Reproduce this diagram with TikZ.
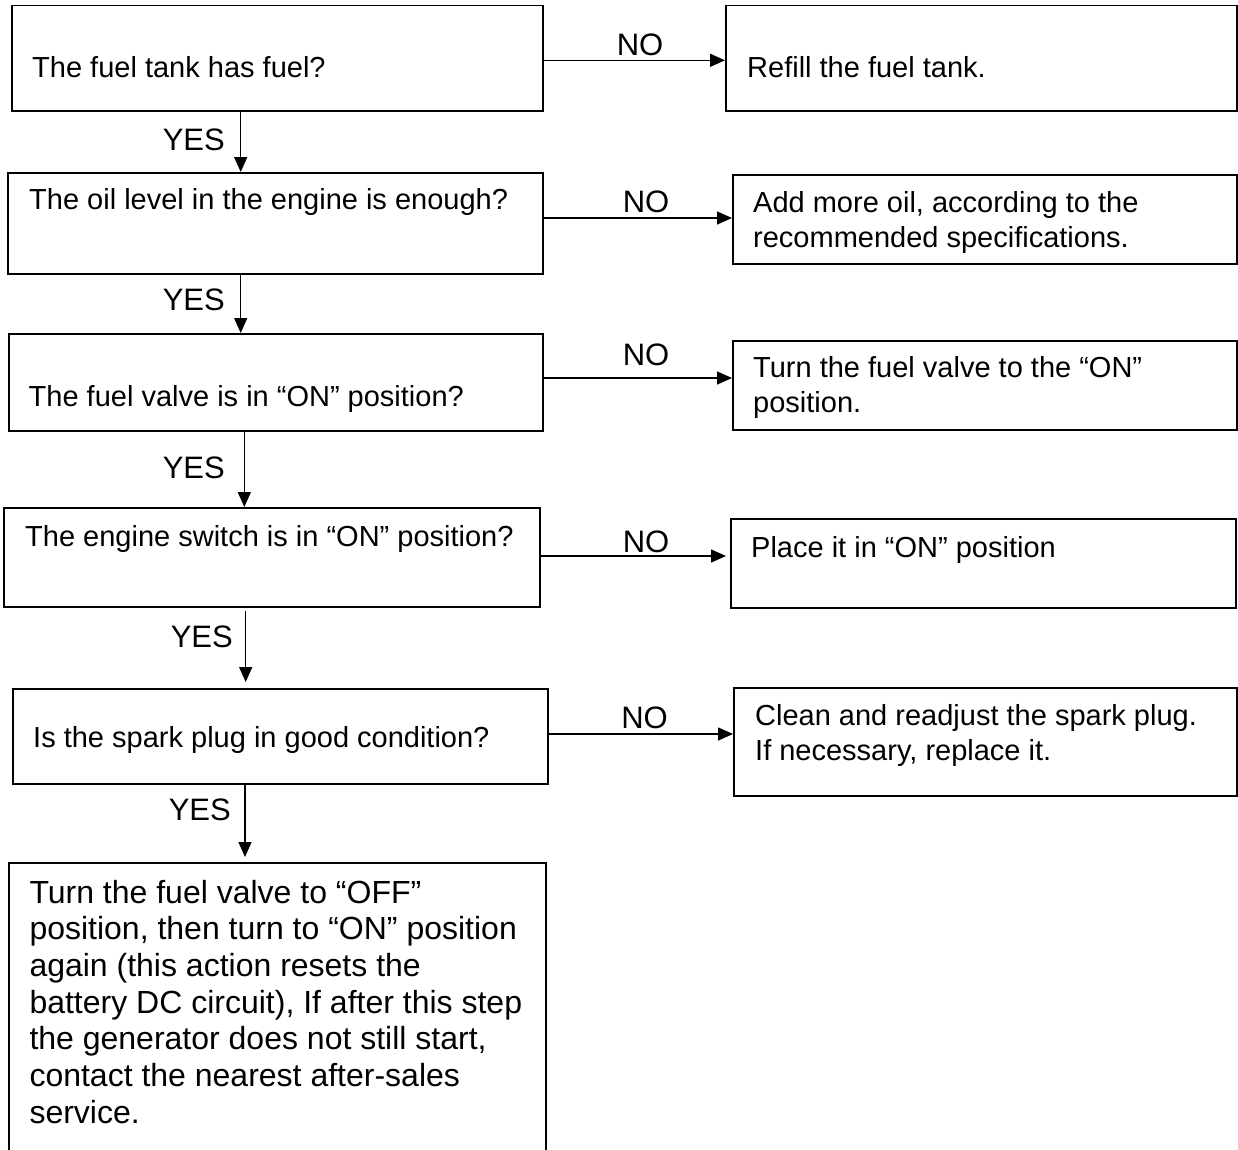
\documentclass[tikz,border=0pt]{standalone}
\usepackage{fontspec}
\setmainfont{Liberation Sans}
\usetikzlibrary{arrows.meta}
\newcommand{\mylines}[1]{\begin{tabular}[t]{@{}l@{}}#1\end{tabular}}
\begin{document}
\begin{tikzpicture}[x=1pt,y=-1pt,
  box/.style={draw=black,line width=1.5pt,anchor=north west,inner sep=0pt,fill=none},
  txt/.style={anchor=base west,inner sep=0pt,font=\fontsize{29}{35}\selectfont},
  bigtxt/.style={anchor=base west,inner sep=0pt,font=\fontsize{32}{36.7}\selectfont},
  lbl/.style={inner sep=0pt,font=\fontsize{31}{36}\selectfont},
  arr/.style={line width=1.5pt,-{Triangle[length=15pt,width=13pt]}}]
\useasboundingbox (0,0) rectangle (1238,1149);
\clip (0,0) rectangle (1238,1149);
\fill[white] (0,0) rectangle (1238,1149);
% boxes
\node[box,minimum width=531pt,minimum height=105.3pt] (q1) at (11,4.7) {};
\node[box,minimum width=511pt,minimum height=105.3pt] (a1) at (725,4.7) {};
\node[box,minimum width=534.7pt,minimum height=101pt] (q2) at (7.3,172) {};
\node[box,minimum width=504pt,minimum height=89pt] (a2) at (732,174) {};
\node[box,minimum width=534pt,minimum height=97pt] (q3) at (8,333) {};
\node[box,minimum width=504pt,minimum height=89pt] (a3) at (732,340) {};
\node[box,minimum width=536pt,minimum height=99pt] (q4) at (3,507) {};
\node[box,minimum width=505pt,minimum height=89pt] (a4) at (730,518) {};
\node[box,minimum width=535pt,minimum height=95pt] (q5) at (12,688) {};
\node[box,minimum width=503pt,minimum height=108pt] (a5) at (733,687) {};
\node[box,minimum width=537pt,minimum height=320pt] (q6) at (8,862) {};
% texts
\node[txt] (t1) at (32,77) {The fuel tank has fuel?};
\node[txt] (u1) at (747,77) {Refill the fuel tank.};
\node[txt] (t2) at (29,209) {The oil level in the engine is enough?};
\node[txt] (u2) at (753,212) {\mylines{Add more oil, according to the\\recommended specifications.}};
\node[txt] (t3) at (28.5,406) {The fuel valve is in “ON” position?};
\node[txt] (u3) at (753,377) {\mylines{Turn the fuel valve to the “ON”\\position.}};
\node[txt] (t4) at (25,546) {The engine switch is in “ON” position?};
\node[txt] (u4) at (751,557) {Place it in “ON” position};
\node[txt] (t5) at (33,747) {Is the spark plug in good condition?};
\node[txt] (u5) at (755,725) {\mylines{Clean and readjust the spark plug.\\If necessary, replace it.}};
\node[bigtxt] (t6) at (29.3,903) {\mylines{Turn the fuel valve to “OFF”\\position, then turn to “ON” position\\again (this action resets the\\battery DC circuit), If after this step\\the generator does not still start,\\contact the nearest after-sales\\service.}};
% helper coordinates
\coordinate (n1) at (0,60.3);
\coordinate (n2) at (0,218);
\coordinate (n3) at (0,378);
\coordinate (n4) at (0,556);
\coordinate (n5) at (0,734);
\coordinate (y1) at (240.7,0);
\coordinate (y2) at (240.7,0);
\coordinate (y3) at (244.3,0);
\coordinate (y4) at (245.7,0);
\coordinate (y5) at (245,0);
% NO connectors
\draw[arr] (q1.east |- n1) -- (a1.west |- n1);
\draw[arr] (q2.east |- n2) -- (a2.west |- n2);
\draw[arr] (q3.east |- n3) -- (a3.west |- n3);
\draw[arr,shorten >=4pt] (q4.east |- n4) -- (a4.west |- n4);
\draw[arr] (q5.east |- n5) -- (a5.west |- n5);
% YES connectors
\draw[arr] (q1.south -| y1) -- (q2.north -| y1);
\draw[arr] (q2.south -| y2) -- (q3.north -| y2);
\draw[arr] (q3.south -| y3) -- (q4.north -| y3);
\draw[arr,shorten <=3pt,shorten >=6pt] (q4.south -| y4) -- (q5.north -| y4);
\draw[arr,shorten >=5pt] (q5.south -| y5) -- (q6.north -| y5);
% labels
\node[lbl,anchor=base] (no1) at (640,55) {NO};
\node[lbl,anchor=base] (no2) at (646,212) {NO};
\node[lbl,anchor=base] (no3) at (646,365) {NO};
\node[lbl,anchor=base] (no4) at (646,552) {NO};
\node[lbl,anchor=base] (no5) at (644.5,728) {NO};
\node[lbl,anchor=base east] (yes1) at (225,150) {YES};
\node[lbl,anchor=base east] (yes2) at (225,310) {YES};
\node[lbl,anchor=base east] (yes3) at (225,478) {YES};
\node[lbl,anchor=base east] (yes4) at (233,647) {YES};
\node[lbl,anchor=base east] (yes5) at (231,820) {YES};
\end{tikzpicture}
\end{document}
